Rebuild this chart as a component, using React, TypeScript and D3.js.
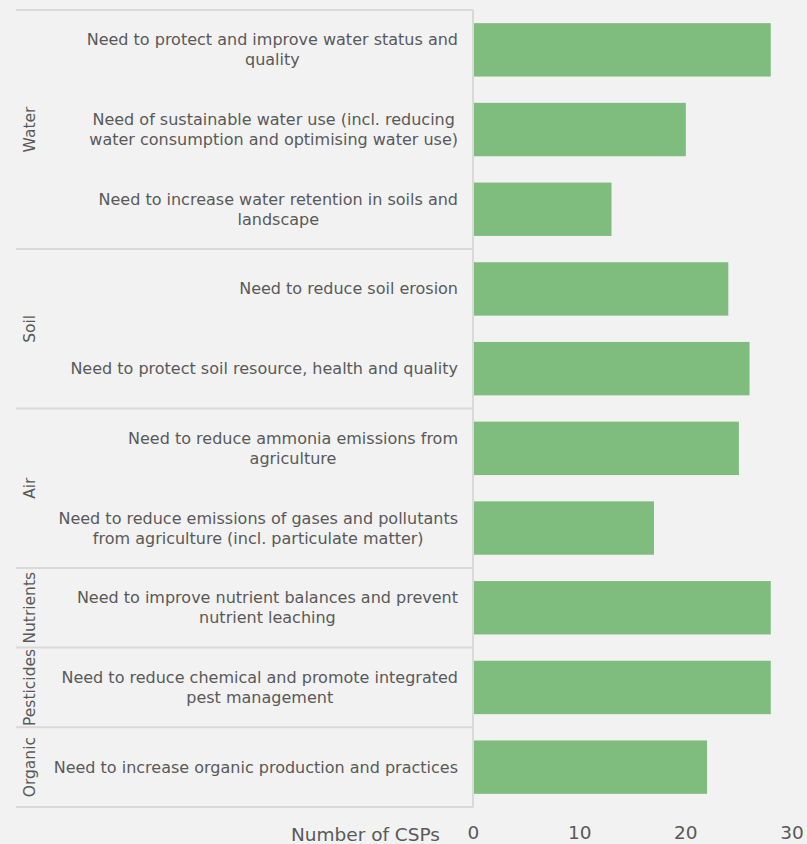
import React, { useEffect, useRef } from "react";
import * as d3 from "d3";

// data
var groups = ["Water", "Soil", "Air", "Nutrients", "Pesticides", "Organic"];
var groupOf = ["Water", "Water", "Water", "Soil", "Soil", "Air", "Air", "Nutrients", "Pesticides", "Organic"];
var labels = [
    "Need to protect and improve water status and\nquality",
    "Need of sustainable water use (incl. reducing\nwater consumption and optimising water use)",
    "Need to increase water retention in soils and\nlandscape",
    "Need to reduce soil erosion",
    "Need to protect soil resource, health and quality",
    "Need to reduce ammonia emissions from\nagriculture",
    "Need to reduce emissions of gases and pollutants\nfrom agriculture (incl. particulate matter)",
    "Need to improve nutrient balances and prevent\nnutrient leaching",
    "Need to reduce chemical and promote integrated\npest management",
    "Need to increase organic production and practices",
];
var values = [28, 20, 13, 24, 26, 25, 17, 28, 28, 22];
var xTicks = [0, 10, 20, 30];

var W = 807, H = 844;
var left = 473.5, right = 792, top = 10, bottom = 807;
var font = "DejaVu Sans, Verdana, sans-serif";
var textColor = "#595959";
var gridColor = "#d9d9d9";

function App() {
    const ref = useRef<SVGSVGElement>(null);

    useEffect(() => {
        var svg = d3.select(ref.current);
        svg.selectAll("*").remove();

        svg.append("rect").attr("width", W).attr("height", H).attr("fill", "#f2f2f2");

        var ids = labels.map((d, i) => String(i));
        var y = d3.scaleBand().domain(ids).range([top, bottom]).paddingInner(0.33).paddingOuter(0.165);
        var x = d3.scaleLinear().domain([0, 30]).range([left, right]);
        var step = y.step();

        // bars
        svg.append("g").selectAll("rect")
            .data(values)
            .enter().append("rect")
            .attr("x", x(0))
            .attr("y", (d, i) => y(String(i))!)
            .attr("width", d => x(d) - x(0))
            .attr("height", y.bandwidth())
            .attr("fill", "#7fbd7f");

        // separators between groups
        var boundaries = [0];
        groups.forEach(g => {
            var last = groupOf.lastIndexOf(g);
            boundaries.push(last + 1);
        });
        svg.append("g").selectAll("line")
            .data(boundaries)
            .enter().append("line")
            .attr("x1", 16).attr("x2", left)
            .attr("y1", d => top + d * step)
            .attr("y2", d => top + d * step)
            .attr("stroke", gridColor).attr("stroke-width", 2);
        svg.append("line")
            .attr("x1", left - 0.5).attr("x2", left - 0.5)
            .attr("y1", top).attr("y2", bottom)
            .attr("stroke", gridColor).attr("stroke-width", 2);

        // group labels
        groups.forEach(g => {
            var first = groupOf.indexOf(g);
            var last = groupOf.lastIndexOf(g);
            var cy = top + (first + last + 1) / 2 * step;
            svg.append("text")
                .attr("transform", `translate(35, ${cy}) rotate(-90)`)
                .attr("text-anchor", "middle")
                .attr("font-family", font)
                .attr("font-size", 15.5)
                .attr("fill", textColor)
                .text(g);
        });

        // category labels: lines centred, block right-aligned
        labels.forEach((lab, i) => {
            var lines = lab.split("\n");
            var cy = y(String(i))! + y.bandwidth() / 2;
            var t = svg.append("text")
                .attr("font-family", font)
                .attr("font-size", 16)
                .attr("fill", textColor)
                .attr("text-anchor", "middle");
            var spans = lines.map((l, k) => t.append("tspan")
                .attr("y", cy + (k - (lines.length - 1) / 2) * 20 + 5.5)
                .text(l));
            var maxW = d3.max(spans, s => (s.node() as SVGTSpanElement).getComputedTextLength()) || 0;
            spans.forEach(s => s.attr("x", 458 - maxW / 2));
        });

        // x axis
        svg.append("g").selectAll("text")
            .data(xTicks)
            .enter().append("text")
            .attr("x", d => x(d))
            .attr("y", 839)
            .attr("text-anchor", "middle")
            .attr("font-family", font)
            .attr("font-size", 18.5)
            .attr("fill", textColor)
            .text(d => d);

        svg.append("text")
            .attr("x", 440)
            .attr("y", 841)
            .attr("text-anchor", "end")
            .attr("font-family", font)
            .attr("font-size", 18.5)
            .attr("fill", textColor)
            .text("Number of CSPs");
    }, []);

    return (
        <svg ref={ref} width={W} height={H} style={{ position: "absolute", left: 0, top: 0 }}></svg>
    );
}

export default App;
